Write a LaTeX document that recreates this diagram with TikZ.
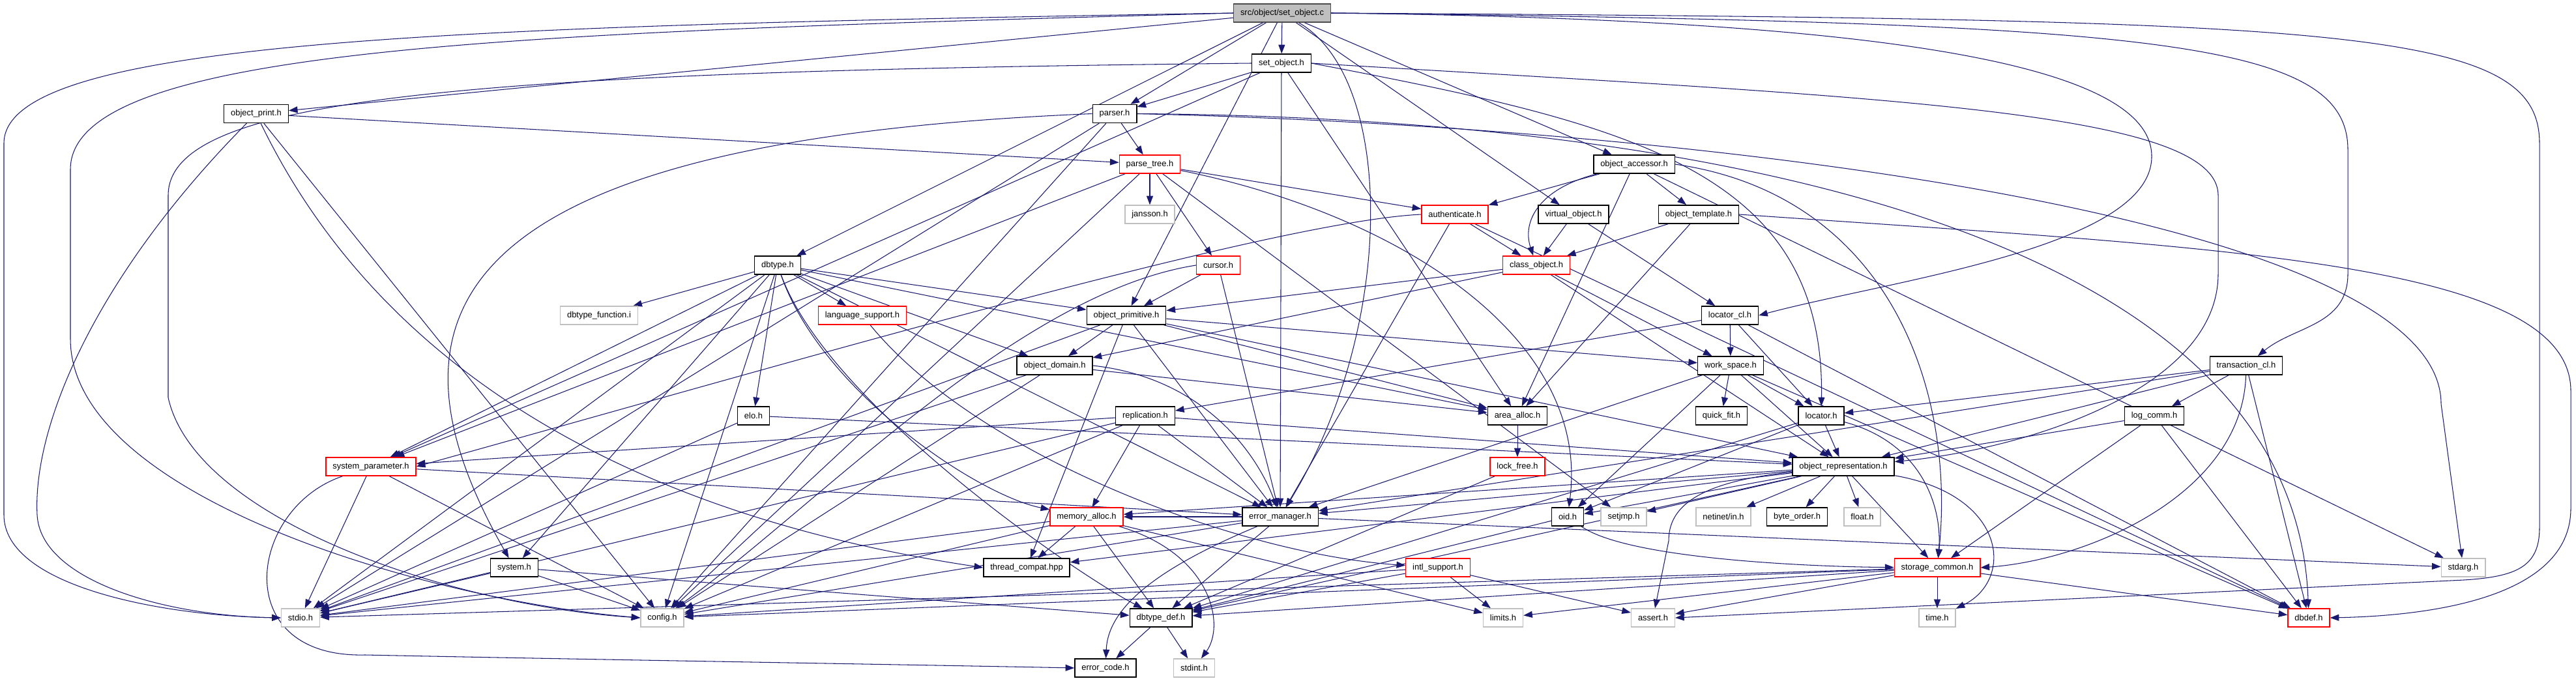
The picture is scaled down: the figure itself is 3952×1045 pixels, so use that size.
\documentclass[tikz,border=0pt]{standalone}
\usepackage{fontspec}
\setmainfont{Liberation Sans}
\usetikzlibrary{arrows.meta,backgrounds}
\definecolor{incblue}{RGB}{25,25,112}
\definecolor{hdrgray}{RGB}{191,191,191}
\definecolor{hdrred}{RGB}{255,0,0}
\begin{document}
\begin{tikzpicture}[x=0.025cm, y=-0.025cm, >={Triangle[length=0.34cm,width=0.25cm]},
    every node/.style={font=\fontsize{9.2}{11}\selectfont, inner xsep=0.26cm, inner ysep=0pt,
      minimum height=0.7cm, fill=white, line width=1pt},
    hdr/.style={draw=black},
    hdrr/.style={draw=hdrred},
    hdrg/.style={draw=hdrgray},
    hdrroot/.style={draw=black!70, fill=hdrgray},
    inc/.style={->, draw=incblue, line width=0.75pt}]
  \useasboundingbox (0,0) rectangle (3952,1045);
  % include graph of set_object.c
  \node[hdrroot] (main) at (1967,20) {src/object/set\_object.c};
  \node[hdr] (setobjh) at (1966,97) {set\_object.h};
  \node[hdr] (objprint) at (393,174.5) {object\_print.h};
  \node[hdr] (parser) at (1710,174.5) {parser.h};
  \node[hdrr] (parsetree) at (1764,252) {parse\_tree.h};
  \node[hdr] (objaccessor) at (2507,252) {object\_accessor.h};
  \node[hdrg] (jansson) at (1764,329) {jansson.h};
  \node[hdrr] (authenticate) at (2232,329) {authenticate.h};
  \node[hdr] (virtualobj) at (2414,329) {virtual\_object.h};
  \node[hdr] (objtemplate) at (2606,329) {object\_template.h};
  \node[hdr] (dbtype) at (1193,407) {dbtype.h};
  \node[hdrr] (cursor) at (1869,407) {cursor.h};
  \node[hdrr] (classobj) at (2357,407) {class\_object.h};
  \node[hdrg] (dbtypefunc) at (919,484) {dbtype\_function.i};
  \node[hdrr] (langsupport) at (1323,484) {language\_support.h};
  \node[hdr] (objprimitive) at (1728,484) {object\_primitive.h};
  \node[hdr] (locatorcl) at (2654,484) {locator\_cl.h};
  \node[hdr] (objdomain) at (1618,561) {object\_domain.h};
  \node[hdr] (workspace) at (2655,561) {work\_space.h};
  \node[hdr] (transcl) at (3446,561) {transaction\_cl.h};
  \node[hdr] (elo) at (1156,638) {elo.h};
  \node[hdr] (replication) at (1757,638) {replication.h};
  \node[hdr] (areaalloc) at (2328,638) {area\_alloc.h};
  \node[hdr] (quickfit) at (2641,638) {quick\_fit.h};
  \node[hdr] (locator) at (2794,638) {locator.h};
  \node[hdr] (logcomm) at (3305,638) {log\_comm.h};
  \node[hdrr] (sysparam) at (569,716) {system\_parameter.h};
  \node[hdrr] (lockfree) at (2328,716) {lock\_free.h};
  \node[hdr] (objrep) at (2828,716) {object\_representation.h};
  \node[hdrr] (memalloc) at (1667,793) {memory\_alloc.h};
  \node[hdr] (errmgr) at (1964,793) {error\_manager.h};
  \node[hdr] (oid) at (2405,793) {oid.h};
  \node[hdrg] (setjmp) at (2491,793) {setjmp.h};
  \node[hdrg] (netinet) at (2644,793) {netinet/in.h};
  \node[hdr] (byteorder) at (2757,793) {byte\_order.h};
  \node[hdrg] (floath) at (2857,793) {float.h};
  \node[hdr] (system) at (789,871) {system.h};
  \node[hdr] (threadcompat) at (1575,871) {thread\_compat.hpp};
  \node[hdrr] (intl) at (2206,871) {intl\_support.h};
  \node[hdrr] (storage) at (2972,871) {storage\_common.h};
  \node[hdrg] (stdarg) at (3779,871) {stdarg.h};
  \node[hdrg] (stdio) at (461,948) {stdio.h};
  \node[hdrg] (config) at (1016,948) {config.h};
  \node[hdr] (dbtypedef) at (1781,948) {dbtype\_def.h};
  \node[hdrg] (limits) at (2306,948) {limits.h};
  \node[hdrg] (assert) at (2536,948) {assert.h};
  \node[hdrg] (timeh) at (2972,948) {time.h};
  \node[hdrr] (dbdef) at (3542,948) {dbdef.h};
  \node[hdr] (errcode) at (1696,1025) {error\_code.h};
  \node[hdrg] (stdint) at (1832,1025) {stdint.h};

  \begin{scope}[on background layer]
    % straight includes
    \foreach \t in {setobjh,objprint,parser,dbtype,objprimitive,objaccessor,virtualobj}
      \draw[inc] (main) -- (\t);
    \foreach \t in {parser,areaalloc,sysparam,errmgr}
      \draw[inc] (setobjh) -- (\t);
    \foreach \t in {parsetree,config}
      \draw[inc] (objprint) -- (\t);
    \foreach \t in {parsetree,stdio,config}
      \draw[inc] (parser) -- (\t);
    \foreach \t in {jansson,cursor,authenticate,sysparam,config,setjmp}
      \draw[inc] (parsetree) -- (\t);
    \foreach \t in {authenticate,objtemplate,areaalloc,stdarg}
      \draw[inc] (objaccessor) -- (\t);
    \foreach \t in {classobj,errmgr,dbdef}
      \draw[inc] (authenticate) -- (\t);
    \foreach \t in {classobj,locatorcl}
      \draw[inc] (virtualobj) -- (\t);
    \foreach \t in {classobj,areaalloc}
      \draw[inc] (objtemplate) -- (\t);
    \foreach \t in {dbtypefunc,langsupport,objprimitive,objdomain,elo,sysparam,errmgr,system,stdio,config,areaalloc}
      \draw[inc] (dbtype) -- (\t);
    \foreach \t in {objprimitive,errmgr}
      \draw[inc] (cursor) -- (\t);
    \foreach \t in {objprimitive,objdomain,workspace,objrep}
      \draw[inc] (classobj) -- (\t);
    \foreach \t in {objdomain,workspace,errmgr,threadcompat,stdio,objrep,areaalloc}
      \draw[inc] (objprimitive) -- (\t);
    \foreach \t in {workspace,locator,replication,dbdef}
      \draw[inc] (locatorcl) -- (\t);
    \foreach \t in {areaalloc,config,stdio}
      \draw[inc] (objdomain) -- (\t);
    \foreach \t in {quickfit,locator,oid,objrep,dbdef,errmgr}
      \draw[inc] (workspace) -- (\t);
    \foreach \t in {logcomm,locator,objrep,errmgr,dbdef}
      \draw[inc] (transcl) -- (\t);
    \foreach \t in {objrep,stdio}
      \draw[inc] (elo) -- (\t);
    \foreach \t in {memalloc,errmgr,sysparam,config,stdio,objrep}
      \draw[inc] (replication) -- (\t);
    \draw[inc] (areaalloc) -- (lockfree);
    \foreach \t in {objrep,oid,dbtypedef}
      \draw[inc] (locator) -- (\t);
    \foreach \t in {objrep,storage,dbdef}
      \draw[inc] (logcomm) -- (\t);
    \foreach \t in {errmgr,stdio,config}
      \draw[inc] (sysparam) -- (\t);
    \draw[inc] (lockfree) -- (dbtypedef);
    \foreach \t in {oid,setjmp,netinet,byteorder,floath,storage,errmgr,memalloc,threadcompat,dbtypedef}
      \draw[inc] (objrep) -- (\t);
    \foreach \t in {threadcompat,config,stdio,dbtypedef,limits}
      \draw[inc] (memalloc) -- (\t);
    \foreach \t in {memalloc,dbtypedef,stdarg,stdio,config}
      \draw[inc] (errmgr) -- (\t);
    \draw[inc] (oid) -- (dbtypedef);
    \foreach \t in {stdio,config,dbtypedef}
      \draw[inc] (system) -- (\t);
    \foreach \t in {limits,assert,dbtypedef,config}
      \draw[inc] (intl) -- (\t);
    \foreach \t in {timeh,dbdef,stdio,config,dbtypedef,limits,assert}
      \draw[inc] (storage) -- (\t);
    \foreach \t in {errcode,stdint}
      \draw[inc] (dbtypedef) -- (\t);

    % routed includes
    \draw[inc] (main.west) .. controls (700,40) and (6,60) .. (6,220) -- (6,790)
      .. controls (6,900) and (250,945) .. (stdio.west);
    \draw[inc] (main.west) .. controls (800,50) and (108,70) .. (108,260) -- (108,520)
      .. controls (108,760) and (650,920) .. (config.west);
    \draw[inc] (main) .. controls (2140,120) and (2143,500) .. (errmgr);
    \draw[inc] (main.east) .. controls (2900,30) and (3301,100) .. (3301,240)
      .. controls (3301,380) and (2900,430) .. (locatorcl.east);
    \draw[inc] (main.east) .. controls (3300,35) and (3602,60) .. (3602,230) -- (3602,420)
      .. controls (3602,500) and (3520,500) .. (transcl);
    \draw[inc] (main.east) .. controls (3600,30) and (3896,40) .. (3896,220) -- (3896,810)
      .. controls (3896,870) and (3860,885) .. (3780,890) -- (assert.east);
    \draw[inc] (setobjh.west) .. controls (700,110) and (258,150) .. (258,300) -- (258,610)
      .. controls (300,800) and (700,930) .. (config.west);
    \draw[inc] (setobjh.east) .. controls (2900,150) and (3403,170) .. (3403,300) -- (3403,420)
      .. controls (3403,600) and (3100,690) .. (objrep);
    \draw[inc] (setobjh.east) .. controls (2500,190) and (2800,260) .. (locator);
    \draw[inc] (objprint) .. controls (150,420) and (50,650) .. (57,790)
      .. controls (62,890) and (250,945) .. (stdio.west);
    \draw[inc] (objprint) .. controls (560,520) and (900,780) .. (threadcompat.west);
    \draw[inc] (parser.west) .. controls (700,215) and (560,470) .. (system);
    \draw[inc] (parser.east) .. controls (2600,195) and (3745,330) .. (3745,620) -- (stdarg);
    \draw[inc] (parser.east) .. controls (2600,180) and (3520,350) .. (dbdef);
    \draw[inc] (parsetree) .. controls (2150,330) and (2440,520) .. (oid);
    \draw[inc] (objaccessor) .. controls (2360,290) and (2335,340) .. (classobj);
    \draw[inc] (objaccessor.east) .. controls (2900,300) and (3000,600) .. (storage);
    \draw[inc] (authenticate.west) .. controls (1950,340) and (1200,560) .. (sysparam.east);
    \draw[inc] (objtemplate.east) .. controls (3400,380) and (3944,400) .. (3944,600) -- (3944,780)
      .. controls (3944,920) and (3720,945) .. (dbdef.east);
    \draw[inc] (dbtype) .. controls (1260,600) and (1500,760) .. (memalloc);
    \draw[inc] (dbtype) .. controls (1270,620) and (1650,880) .. (dbtypedef);
    \draw[inc] (cursor.west) .. controls (1560,450) and (1250,780) .. (config);
    \draw[inc] (langsupport) .. controls (1500,700) and (1900,850) .. (intl);
    \draw[inc] (objdomain.east) .. controls (1850,580) and (1930,700) .. (errmgr);
    \draw[inc] (transcl) .. controls (3440,760) and (3200,860) .. (storage.east);
    \draw[inc] (locator) .. controls (2950,680) and (2980,780) .. (storage);
    \draw[inc] (objrep) .. controls (2600,740) and (2560,780) .. (2560,830) -- (assert);
    \draw[inc] (objrep) .. controls (3080,760) and (3090,890) .. (timeh);
    \draw[inc] (oid) .. controls (2500,860) and (2800,870) .. (storage);
    \draw[inc] (memalloc) .. controls (1860,850) and (1880,960) .. (stdint);
    \draw[inc] (errmgr) .. controls (1780,870) and (1700,930) .. (errcode);
    \draw[inc] (sysparam) .. controls (380,780) and (350,1010) .. (560,1005)
      .. controls (900,1012) and (1400,1020) .. (errcode.west);
  \end{scope}
\end{tikzpicture}
\end{document}
